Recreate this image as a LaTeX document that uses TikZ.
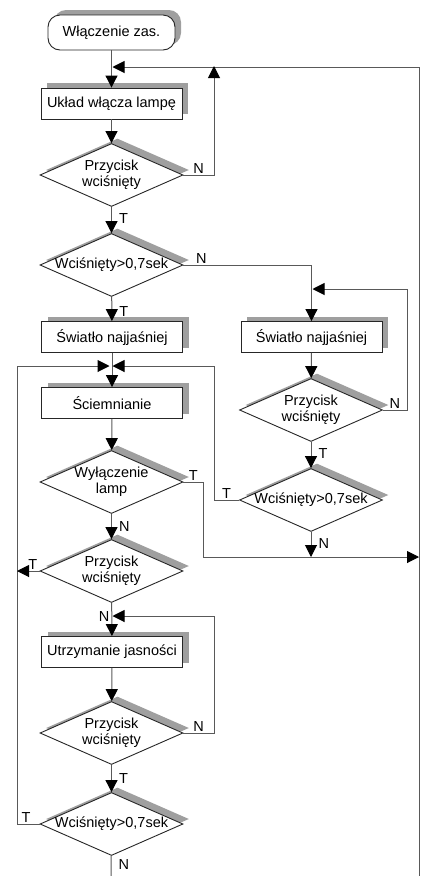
\documentclass[tikz,border=0pt]{standalone}
\usepackage{fontspec}
\setmainfont{Liberation Sans}
\usepackage{tikz}
\usetikzlibrary{shapes.geometric, arrows.meta, shadows}
\tikzset{
  flowshadow/.style={drop shadow={shadow xshift=6pt, shadow yshift=5pt, fill=gray!75, opacity=1}},
  flowbox/.style={
    draw=black!85, line width=0.9pt, fill=white, inner sep=0pt,
    minimum width=141pt, minimum height=31pt, flowshadow
  },
  startbox/.style={flowbox, rounded corners=12pt, minimum width=127pt, minimum height=35pt},
  decision/.style={
    diamond, draw=black!85, line width=0.9pt, fill=white, inner sep=0pt,
    minimum width=143pt, minimum height=63pt, flowshadow
  },
  flowline/.style={draw=black!65, line width=1pt},
  flowarrow/.style={flowline, -{Triangle[length=12pt, width=12pt, color=black]}},
  lbl/.style={inner sep=1pt},
  lblr/.style={lbl, right=6pt},
}
\newcommand{\dtext}[1]{\makebox[0pt]{\begin{tabular}{@{}c@{}}#1\end{tabular}}}

\begin{document}
\begin{tikzpicture}[x=1pt, y=-1pt, font=\fontsize{14.5}{16.5}\selectfont]
  \useasboundingbox (0,0) rectangle (429,876);

  % Main column
  \node[startbox] (start) at (111.5,32.5) {Włączenie zas.};
  \node[flowbox] (b1) at (111.5,103.5) {Układ włącza lampę};
  \node[decision] (d1) at (111.5,175) {\dtext{Przycisk\\wciśnięty}};
  \node[decision] (d2) at (111.5,265) {\dtext{Wciśnięty>0,7sek}};
  \node[flowbox] (b2) at (112,337) {Światło najjaśniej};
  \node[flowbox] (b3) at (112,403) {Ściemnianie};
  \node[decision] (d5) at (111.5,482) {\dtext{Wyłączenie\\lamp}};
  \node[decision] (d6) at (111.5,571) {\dtext{Przycisk\\wciśnięty}};
  \node[flowbox] (b4) at (112,652) {Utrzymanie jasności};
  \node[decision] (d7) at (111.5,733) {\dtext{Przycisk\\wciśnięty}};
  \node[decision] (d8) at (111.5,824) {\dtext{Wciśnięty>0,7sek}};

  % Right column
  \node[flowbox] (b5) at (311.5,337) {Światło najjaśniej};
  \node[decision] (d3) at (311,410) {\dtext{Przycisk\\wciśnięty}};
  \node[decision] (d4) at (311,500) {\dtext{Wciśnięty>0,7sek}};

  % Junctions and bends
  \coordinate (jtop) at (111,67);
  \coordinate (j2) at (111,366);
  \coordinate (j3) at (111,616);
  \coordinate (j4) at (311,289);
  \coordinate (ka) at (214,67);
  \coordinate (kb) at (214,366);
  \coordinate (kc) at (407,289);
  \coordinate (kd) at (203,557);
  \coordinate (ke) at (214,616);
  \coordinate (lft) at (17,366);
  \coordinate (rtop) at (419,67);
  \coordinate (rmid) at (419,557);
  \coordinate (rbot) at (419,876);
  \coordinate (bot) at (111,876);

  % Straight flow
  \draw[flowarrow] (start) -- (b1);
  \draw[flowarrow] (b1) -- (d1);
  \draw[flowarrow] (d1) -- node[lblr, pos=0.45] {T} (d2);
  \draw[flowarrow] (d2) -- node[lblr, pos=0.6] {T} (b2);
  \draw[flowarrow] (b2) -- (b3);
  \draw[flowarrow] (b3) -- (d5);
  \draw[flowarrow] (d5) -- node[lblr, pos=0.5] {N} (d6);
  \draw[flowarrow] (d6) -- node[lbl, left=1pt, pos=0.4] {N} (b4);
  \draw[flowarrow] (b4) -- (d7);
  \draw[flowarrow] (d7) -- node[lblr, pos=0.5] {T} (d8);
  \draw[flowline] (d8) -- node[lblr, pos=0.45] {N} (bot);
  \draw[flowarrow] (d2.east) -| node[lbl, above, pos=0.07] {N} (b5.north);
  \draw[flowarrow] (b5) -- (d3);
  \draw[flowarrow] (d3) -- node[lblr, pos=0.45] {T} (d4);

  % Loops
  \draw[flowarrow] (rbot) -- (rtop) -- ([xshift=1.5pt]jtop);
  \draw[flowarrow] (d1.east) -- node[lbl, above] {N} (d1.east -| ka) -- ([yshift=1pt]ka);
  \draw[flowarrow] (d3.east) -- node[lbl, above] {N} (d3.east -| kc) -- (kc) -- ([xshift=1.5pt]j4);
  \draw[flowarrow] (d4.west) -- node[lbl, above] {T} (d4.west -| kb) -- (kb) -- ([xshift=1.5pt]j2);
  \draw[flowarrow] (d8.west) -- node[lbl, above, pos=0.6] {T} (d8.west -| lft) -- (lft) -- ([xshift=-1.5pt]j2);
  \draw[flowarrow] (d6.west) -- node[lbl, above, pos=0.3] {T} (d6.west -| lft);
  \draw[flowarrow] (d5.east) -- node[lbl, above] {T} (d5.east -| kd) -- (kd) -- (rmid);
  \draw[flowarrow] (d4) -- node[lblr, pos=0.45] {N} (d4.south |- kd);
  \draw[flowarrow] (d7.east) -- node[lbl, above] {N} (d7.east -| ke) -- (ke) -- ([xshift=1.5pt]j3);
\end{tikzpicture}
\end{document}
